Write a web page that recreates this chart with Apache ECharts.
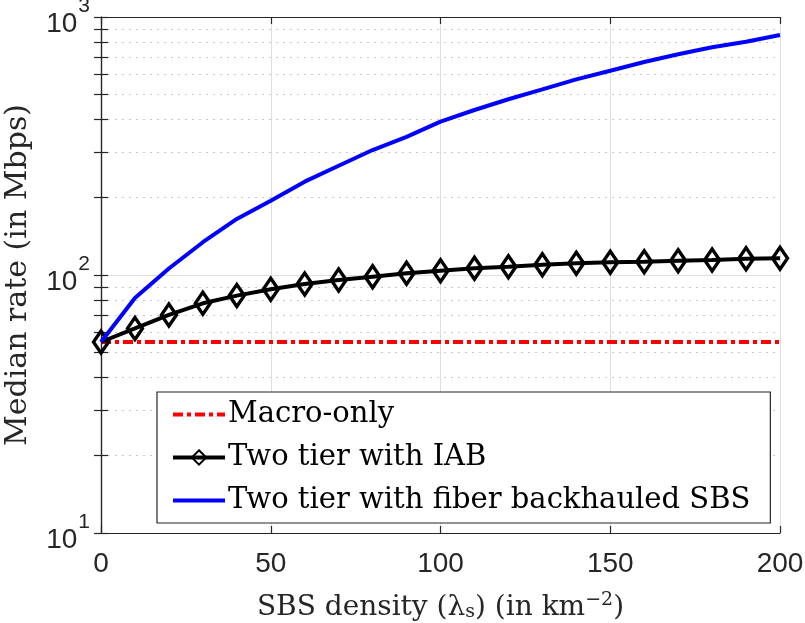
<!DOCTYPE html>
<html>
<head>
<meta charset="utf-8">
<script src="https://cdn.jsdelivr.net/npm/echarts@6/dist/echarts.min.js"></script>
<style>
  html, body { margin: 0; padding: 0; background: #fff; }
  #chart { width: 805px; height: 623px; }
</style>
</head>
<body>
<div id="chart"></div>
<script>
// values
var density = [0, 10, 20, 30, 40, 50, 60, 70, 80, 90, 100, 110, 120, 130, 140, 150, 160, 170, 180, 190, 200];
var macroOnly = [55, 55, 55, 55, 55, 55, 55, 55, 55, 55, 55, 55, 55, 55, 55, 55, 55, 55, 55, 55, 55];
var iab = [55, 62.1, 70, 77.7, 83.2, 88, 92.3, 95.6, 98.5, 101.5, 103.9, 106.2, 107.7, 109.6, 111, 112, 112.6, 113.6, 114.3, 115.5, 116];
var fiber = [55, 81.5, 106, 134, 165, 194, 230, 265, 305, 343, 393, 436, 480, 524, 573, 619, 669, 717, 763, 802, 851];

var xTicks = [0, 50, 100, 150, 200];
var yMajor = [10, 100, 1000];
var yMinor = [20, 30, 40, 50, 60, 70, 80, 90, 200, 300, 400, 500, 600, 700, 800, 900];
var yAllTicks = yMajor.concat(yMinor);

var axisColor = '#262626';
var sansFont = 'Liberation Sans';
var serifFont = 'DejaVu Serif';

var pairs = function(ys) {
	return density.map(function(x, i) {
		return [x, ys[i]];
	});
};

// "10" sits a bit under the tick, the exponent above it
var expRich = {
	h: { fontSize: 1, lineHeight: 42 },
	b: { fontSize: 28, fontFamily: sansFont, color: axisColor, lineHeight: 28, verticalAlign: 'bottom' },
	s: { fontSize: 21, fontFamily: sansFont, color: axisColor, lineHeight: 30, padding: [0, 0, 0, 1], verticalAlign: 'top' }
};

var hiddenY = function(values, lineStyle) {
	return {
		type: 'log', logBase: 10, min: 10, max: 1000,
		axisLine: { show: false },
		axisLabel: { show: false },
		axisTick: { show: false, customValues: values },
		splitLine: { show: true, lineStyle: lineStyle }
	};
};

var option = {
	animation: false,
	backgroundColor: '#fff',
	grid: { left: 101, right: 25, top: 17, bottom: 90, containLabel: false, outerBoundsMode: 'none' },
	legend: {
		left: 157, top: 392,
		orient: 'vertical',
		backgroundColor: '#fff',
		borderColor: axisColor,
		borderWidth: 1.2,
		padding: [8, 20, 8, 14],
		itemGap: 14,
		itemWidth: 52,
		itemHeight: 18,
		lineStyle: { width: 4 },
		textStyle: { fontFamily: serifFont, fontSize: 29, color: '#000', lineHeight: 29, padding: [0, 0, 0, -2] },
		data: [
			{ name: 'Macro-only', itemStyle: { opacity: 0 } },
			{ name: 'Two tier with IAB' },
			{ name: 'Two tier with fiber backhauled SBS', itemStyle: { opacity: 0 } }
		]
	},
	xAxis: [{
		type: 'value', min: 0, max: 200, interval: 50,
		name: 'SBS density ({n|λ}{sub|s}) (in km{sup|−2})',
		nameLocation: 'middle',
		nameGap: 58,
		nameTextStyle: {
			fontFamily: serifFont, fontSize: 28, color: axisColor,
			rich: {
				n: { fontFamily: serifFont, fontSize: 28, color: axisColor },
				sub: { fontFamily: serifFont, fontSize: 19, color: axisColor, padding: [10, 0, 0, 0] },
				sup: { fontFamily: serifFont, fontSize: 19, color: axisColor, padding: [0, 0, 14, 0] }
			}
		},
		axisLine: { lineStyle: { color: axisColor, width: 1.2 } },
		axisTick: { inside: true, length: 7, lineStyle: { color: axisColor, width: 1.2 } },
		axisLabel: { margin: 17, fontFamily: sansFont, fontSize: 28, color: axisColor },
		splitLine: { show: true, lineStyle: { color: '#dedede', width: 1 } }
	}, {
		type: 'value', min: 0, max: 200, interval: 50, position: 'top',
		axisLine: { lineStyle: { color: axisColor, width: 1.2 } },
		axisTick: { inside: true, length: 7, lineStyle: { color: axisColor, width: 1.2 } },
		axisLabel: { show: false },
		splitLine: { show: false }
	}],
	yAxis: [{
		type: 'log', logBase: 10, min: 10, max: 1000,
		name: 'Median rate (in Mbps)',
		nameLocation: 'middle',
		nameGap: 68,
		nameTextStyle: { fontFamily: serifFont, fontSize: 30, color: axisColor },
		axisLine: { show: true, lineStyle: { color: axisColor, width: 1.2 } },
		axisTick: { show: true, inside: true, length: 7, customValues: yAllTicks, lineStyle: { color: axisColor, width: 1.2 } },
		axisLabel: {
			margin: 11,
			customValues: yMajor,
			formatter: function(v) {
				return '{h| }{b|10}{s|' + Math.round(Math.log10(v)) + '}';
			},
			rich: expRich
		},
		splitLine: { show: false }
	}, {
		type: 'log', logBase: 10, min: 10, max: 1000, position: 'right',
		axisLine: { show: true, lineStyle: { color: axisColor, width: 1.2 } },
		axisTick: { show: true, inside: true, length: 7, customValues: yAllTicks, lineStyle: { color: axisColor, width: 1.2 } },
		axisLabel: { show: false },
		splitLine: { show: false }
	},
	hiddenY(yMinor, { color: '#c8c8c8', width: 1, type: [2, 5] }),
	hiddenY([100], { color: '#dedede', width: 1 })
	],
	series: [{
		name: 'Macro-only',
		type: 'line',
		data: pairs(macroOnly),
		symbol: 'none',
		color: '#ff0000',
		lineStyle: { color: '#ff0000', width: 4, type: [10, 4, 4, 4] },
		z: 3
	}, {
		name: 'Two tier with IAB',
		type: 'line',
		data: pairs(iab),
		symbol: 'diamond',
		symbolSize: [15, 22],
		color: '#000',
		itemStyle: { color: 'rgba(0,0,0,0)', borderColor: '#000', borderWidth: 3.5 },
		lineStyle: { color: '#000', width: 4 },
		z: 4
	}, {
		name: 'Two tier with fiber backhauled SBS',
		type: 'line',
		data: pairs(fiber),
		symbol: 'none',
		color: '#0000ff',
		lineStyle: { color: '#0000ff', width: 4 },
		z: 5
	}]
};

var chart = echarts.init(document.getElementById('chart'), null, { renderer: 'canvas' });
chart.setOption(option);
</script>
</body>
</html>
